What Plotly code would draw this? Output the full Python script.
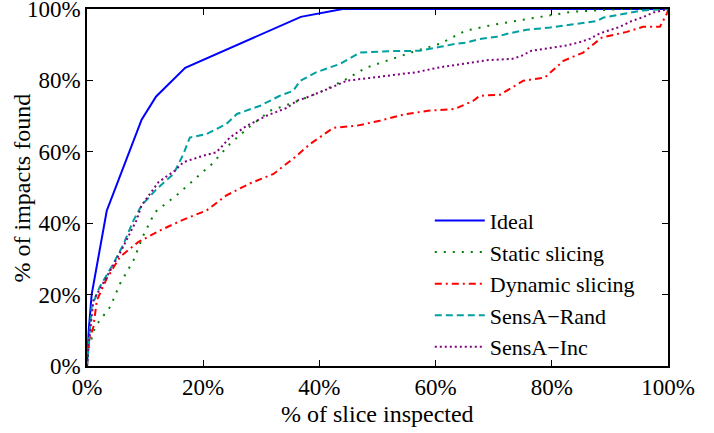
import plotly.graph_objects as go

# ---- data (percent) ----
ideal_x = [0, 0.3, 0.8, 3.4, 9.4, 11.9, 16.9, 36.8, 44, 100]
ideal_y = [0, 10, 20, 43.5, 69, 75.5, 83.5, 97.8, 100, 100]

static_x = [0, 0.3, 1.4, 4.0, 5.7, 8.0, 9.7, 11.7, 15.4, 18.3, 21.5, 24.6, 27.8, 31.5, 35.6,
            40.1, 44.1, 48.1, 52.4, 56.7, 60.8, 65.1, 69.7, 74.2, 78.8, 83.4, 88.3, 92, 100]
static_y = [0, 5, 11, 16.6, 23.1, 29.6, 36.6, 43.1, 47.8, 52, 56.6, 62.2, 66.8, 71.5, 73.8,
            76.7, 79.9, 83.6, 86, 88.3, 90.3, 93.9, 95.5, 96.8, 98, 99.2, 99.7, 100, 100]

dynamic_x = [0, 0.2, 1.1, 1.7, 3.4, 5.7, 8.8, 12.6, 16.3, 20.6, 24.0, 28.0, 32.1, 35.8, 38.4,
             42.4, 46.4, 50.4, 54.4, 58.7, 63.3, 66.5, 67.6, 70.5, 71.1, 75.1, 78.8, 82.0,
             85.4, 88.6, 92.9, 95.7, 98.6, 99.9, 100]
dynamic_y = [0, 5.9, 11, 18.4, 24.5, 30.6, 34.7, 38, 40.8, 43.6, 47.8, 51.1, 53.8, 58.5, 62.2,
             66.7, 67.3, 68.7, 70.4, 71.5, 72, 74.3, 75.7, 75.9, 76, 79.9, 80.8, 85.5,
             87.8, 92, 93.6, 95, 95, 99, 100]

rand_x = [0, 0.2, 0.8, 2.2, 4.2, 6.2, 8.0, 9.4, 12.0, 14.9, 16.6, 17.7, 20.6, 24.0, 25.8, 29.8,
          33.2, 35.5, 36.7, 39.5, 43.5, 45.6, 47.0, 52.2, 57.3, 60.8, 63.6, 65.3, 67.6, 70.5,
          72.2, 75.7, 79.7, 83.7, 87.7, 88.9, 91.7, 95.7, 100]
rand_y = [0, 4.5, 16.6, 22.2, 27.7, 33.8, 40.8, 45, 49.6, 53.8, 59.4, 64, 65, 67.8, 70.6, 72.9,
          75.7, 77.1, 79.9, 82.3, 84.6, 86.5, 87.8, 88.2, 88.3, 89.4, 90.3, 90.6, 91.6, 92.2,
          93, 94.2, 94.8, 95.7, 96.6, 97.6, 98.5, 99.6, 100]

inc_x = [0, 0.1, 1.1, 3.1, 4.2, 6.2, 8.5, 9.4, 10.6, 12.3, 15.1, 16.6, 20.0, 22.3, 24.6, 27.5,
         30.9, 34.4, 36.1, 37.8, 41.3, 44.7, 48.7, 52.7, 56.7, 60.8, 64.8, 69.1, 73.1, 74.8,
         76.5, 80.5, 82.6, 84.6, 86.6, 88.3, 91.7, 93.7, 95.5, 97.5, 99.2, 100]
inc_y = [0, 2.6, 18.4, 24, 27.3, 33.3, 40.8, 45, 47.8, 51.5, 54.7, 57.1, 58.9, 59.9, 64, 67.3,
         70.1, 72.3, 74.3, 75.2, 77.5, 79.9, 80.7, 81.6, 82.3, 83.7, 84.6, 85.7, 86, 86.9,
         88.3, 89.2, 89.8, 90.6, 91.7, 93.2, 95, 96.6, 97.6, 99, 99.6, 100]

tick_vals = [0, 20, 40, 60, 80, 100]
tick_text = ["0%", "20%", "40%", "60%", "80%", "100%"]
x_title = "% of slice inspected"
y_title = "% of impacts found"

series = [
    ("Ideal", ideal_x, ideal_y, "#0000ff", "solid", 2),
    ("Static slicing", static_x, static_y, "#008000", "2px,7px", 2),
    ("Dynamic slicing", dynamic_x, dynamic_y, "#ff0000", "7px,4px,2px,4px", 2),
    ("SensA\u2212Rand", rand_x, rand_y, "#00a0a0", "7px,4px", 2),
    ("SensA\u2212Inc", inc_x, inc_y, "#800080", "2px,3px", 2),
]

fig = go.Figure()
for name, xs, ys, col, dash, w in series:
    fig.add_trace(go.Scatter(x=xs, y=ys, mode="lines", name=name,
                             line=dict(color=col, dash=dash, width=w)))

font_family = "Liberation Serif"
axis_common = dict(
    range=[0, 100], tickvals=tick_vals, ticktext=tick_text,
    ticks="inside", ticklen=6, tickwidth=1, tickcolor="black",
    showline=True, linecolor="black", linewidth=1.5, mirror="ticks",
    showgrid=False, zeroline=False, ticklabeloverflow="allow", automargin=False,
    tickfont=dict(family=font_family, size=23, color="black"),
)

fig.update_layout(
    width=714, height=433,
    margin=dict(l=87, r=46, t=9, b=67),
    paper_bgcolor="white", plot_bgcolor="white",
    font=dict(family=font_family, size=22, color="black"),
    xaxis=dict(axis_common),
    yaxis=dict(axis_common),
    legend=dict(x=0.59, y=0.466, xanchor="left", yanchor="top",
                bgcolor="rgba(0,0,0,0)", borderwidth=0,
                font=dict(family=font_family, size=22, color="black"),
                tracegroupgap=0, itemwidth=50),
    showlegend=True,
    annotations=[
        dict(text=x_title, xref="paper", yref="paper", x=0.5, y=-0.134,
             xanchor="center", yanchor="middle", showarrow=False,
             font=dict(family=font_family, size=24, color="black")),
        dict(text=y_title, xref="paper", yref="paper", x=-0.1119, y=0.5,
             xanchor="center", yanchor="middle", showarrow=False, textangle=-90,
             font=dict(family=font_family, size=24, color="black")),
    ],
)

fig.write_html("out.html")
